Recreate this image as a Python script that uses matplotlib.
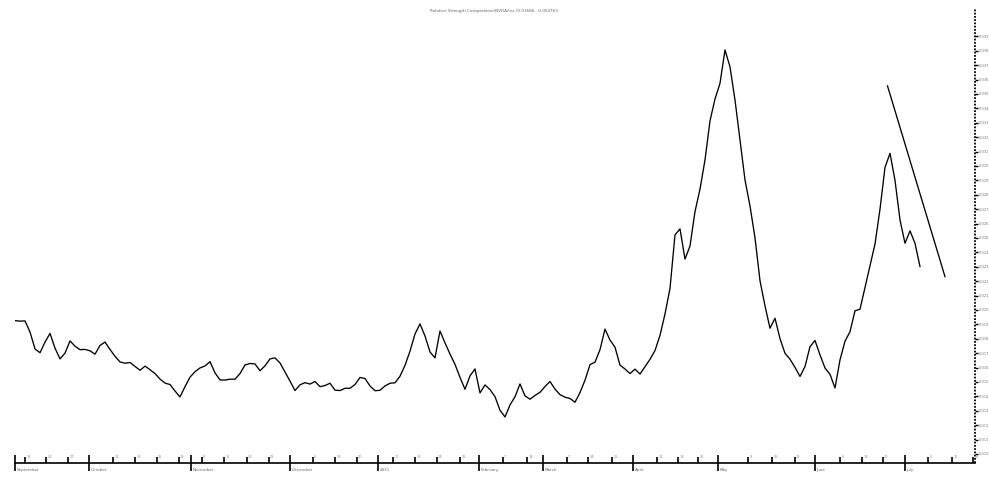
import numpy as np
import matplotlib
matplotlib.use("Agg")
import matplotlib.pyplot as plt
import matplotlib.transforms as mtransforms

# relative strength comparative, one value per bar (tick units of the right axis)
rsc = [9.26, 9.22, 9.24, 8.47, 7.29, 7.03, 7.76, 8.37, 7.35, 6.60,
       7.00, 7.85, 7.48, 7.24, 7.26, 7.16, 6.93, 7.53, 7.77, 7.26,
       6.78, 6.39, 6.30, 6.35, 6.08, 5.81, 6.10, 5.85, 5.58, 5.20,
       4.92, 4.82, 4.37, 3.96, 4.67, 5.33, 5.71, 5.97, 6.11, 6.41,
       5.63, 5.14, 5.13, 5.19, 5.19, 5.58, 6.18, 6.28, 6.25, 5.78,
       6.12, 6.60, 6.67, 6.32, 5.69, 5.06, 4.40, 4.80, 4.95, 4.85,
       5.03, 4.67, 4.75, 4.91, 4.43, 4.40, 4.56, 4.56, 4.82, 5.31,
       5.24, 4.72, 4.39, 4.42, 4.72, 4.91, 4.94, 5.40, 6.15, 7.14,
       8.33, 9.03, 8.19, 7.08, 6.67, 8.54, 7.71, 6.94, 6.22, 5.32,
       4.49, 5.42, 5.90, 4.24, 4.79, 4.47, 3.98, 3.03, 2.57, 3.40,
       3.97, 4.86, 4.03, 3.80, 4.06, 4.28, 4.68, 5.03, 4.50, 4.12,
       3.94, 3.85, 3.59, 4.26, 5.12, 6.20, 6.37, 7.24, 8.67, 7.91,
       7.41, 6.17, 5.90, 5.58, 5.89, 5.55, 6.06, 6.57, 7.18, 8.24,
       9.72, 11.50, 15.21, 15.63, 13.53, 14.44, 16.83, 18.39, 20.42, 23.13,
       24.65, 25.74, 28.06, 26.88, 24.58, 21.81, 19.03, 17.22, 15.01, 12.03,
       10.28, 8.73, 9.42, 8.01, 6.99, 6.58, 6.01, 5.38, 6.07, 7.45,
       7.88, 6.88, 5.97, 5.53, 4.58, 6.53, 7.83, 8.49, 9.94, 10.05,
       11.56, 13.06, 14.58, 17.00, 19.90, 20.88, 19.00, 16.25, 14.63, 15.49,
       14.63, 13.01]

# hand drawn trend line (bar index, value)
trend_x = [174.5, 186.0]
trend_y = [25.56, 12.31]

month_pos = [0, 14.8, 35.2, 55, 72.6, 92.8, 105.6, 123.6, 140.6, 160, 178]
month_labels = ["September", "October", "November", "December", "2011",
                "February", "March", "April", "May", "June", "July"]

week_pos = [2, 6.2, 10.6, 19.6, 24, 28.4, 32.8, 37.4, 41.8, 46.4, 50.8,
            59.6, 64, 68.4, 75.6, 80, 84.4, 89, 97.6, 102.4, 110.4, 114.6,
            119.4, 128.4, 132.6, 136.6, 146.6, 151.4, 156, 165, 169.4,
            173.6, 182.6, 187.4, 191.6]
week_labels = ["13", "20", "27", "11", "18", "25", "29", "8", "15", "22", "29",
               "6", "13", "20", "10", "18", "24", "31", "7", "14", "7", "14",
               "21", "11", "18", "25", "9", "16", "23", "6", "13",
               "20", "5", "11", "18"]

yticks = np.arange(0, 30)

fig = plt.figure(figsize=(9.89, 4.82), dpi=100)
ax = fig.add_axes([15/989, 1 - 463/482, 960/989, 455/482])

x = np.arange(len(rsc))
ax.plot(x, rsc, color="black", lw=0.95)
ax.plot(trend_x, trend_y, color="black", lw=0.95)

ax.set_xlim(0, 192)
ax.set_ylim(-0.63, 30.97)

for s in ["left", "top"]:
    ax.spines[s].set_visible(False)
ax.spines["bottom"].set_linewidth(1.2)
ax.spines["right"].set_linewidth(1.3)
ax.spines["right"].set_linestyle((0, (1.0, 0.8)))
ax.spines["right"].set_capstyle("butt")

# right hand price scale
ax.yaxis.tick_right()
ax.set_yticks(yticks)
ax.set_yticklabels(["%.3f" % (0.010 + 0.001 * t) for t in yticks])
ax.tick_params(axis="y", direction="out", length=2, width=1.0, pad=0.8,
               labelsize=2.6, labelcolor="#777777")

# months: major ticks crossing the axis, weeks: small ticks inside
ax.set_xticks(month_pos)
ax.set_xticklabels([])
ax.set_xticks(week_pos, minor=True)
ax.tick_params(axis="x", which="major", direction="inout", length=11, width=1.2)
ax.tick_params(axis="x", which="minor", direction="in", length=4, width=1.2)

trans = mtransforms.blended_transform_factory(ax.transData, ax.transAxes)
for p, lab in zip(month_pos, month_labels):
    ax.text(p + 0.3, -0.012, lab, transform=trans, fontsize=3, color="#666666",
            ha="left", va="top")
for p, lab in zip(week_pos, week_labels):
    ax.text(p + 0.25, 0.008, lab, transform=trans, fontsize=2.5, color="#888888",
            ha="left", va="bottom")

fig.text(0.5, 0.978, "Relative Strength Comparative(NVDA/Inx (0.01686, -0.00476))",
         fontsize=3, color="#666666", ha="center", va="center")

fig.savefig("out.png", dpi=100)
